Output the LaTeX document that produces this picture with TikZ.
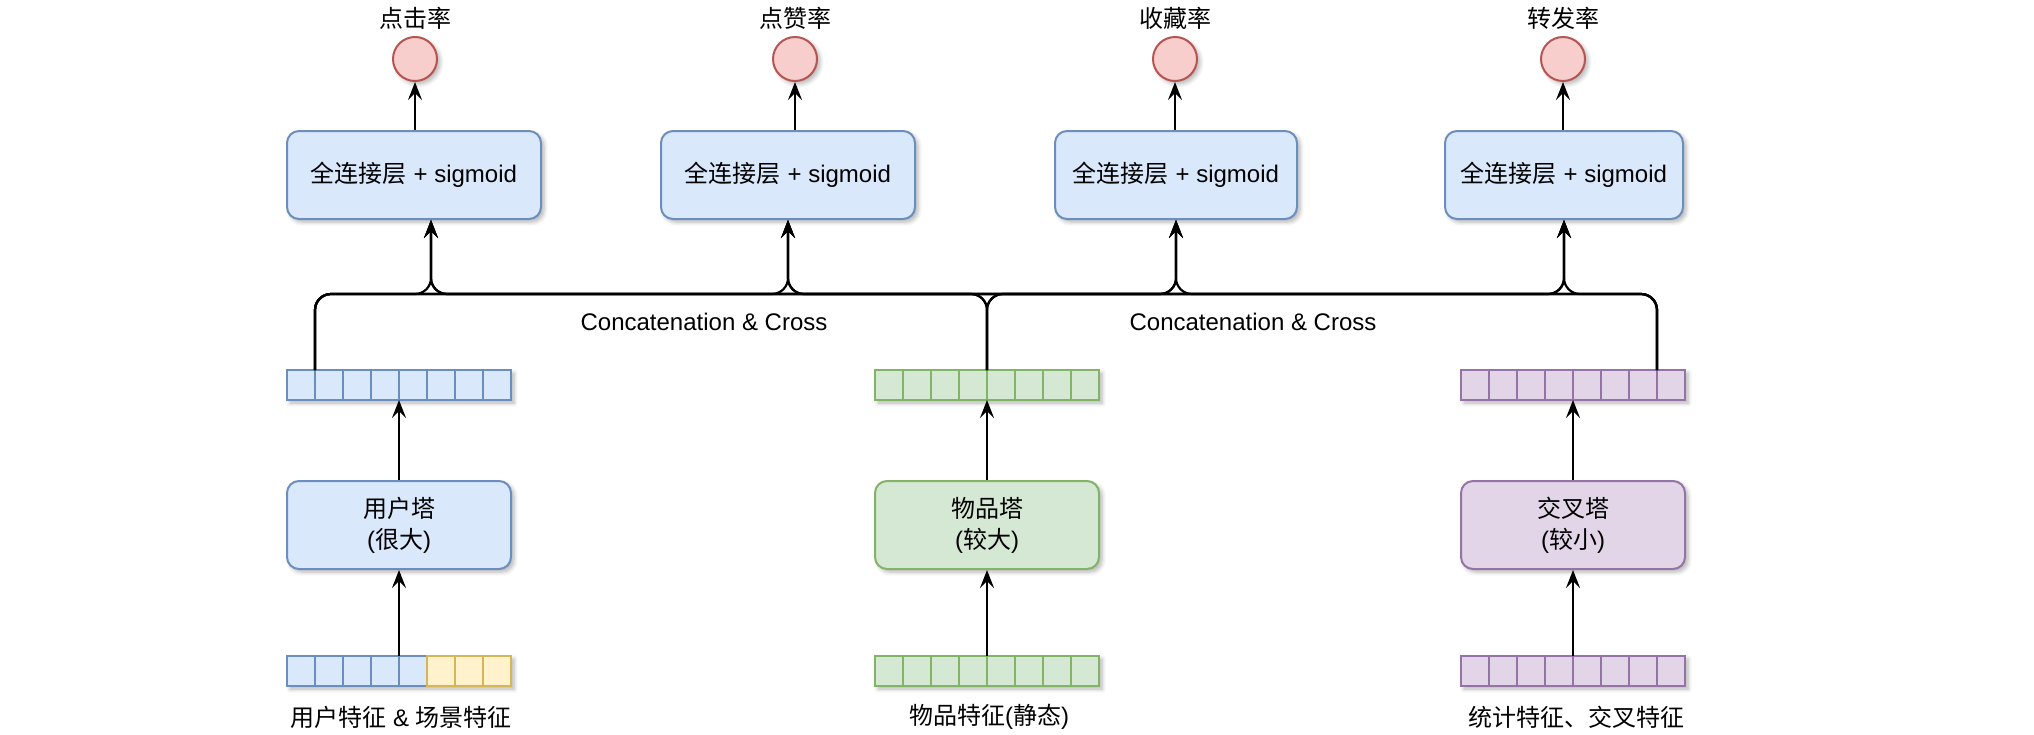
\documentclass[tikz,border=0pt]{standalone}
\usepackage{fontspec}
\setmainfont{Liberation Sans}
\newfontfamily\cjk{Noto Sans CJK SC}
\newcommand{\zh}[1]{{\cjk #1}}
\usetikzlibrary{arrows.meta,shadows.blur,calc}
\definecolor{bfill}{HTML}{DAE8FC}\definecolor{bdraw}{HTML}{6C8EBF}
\definecolor{gfill}{HTML}{D5E8D4}\definecolor{gdraw}{HTML}{82B366}
\definecolor{pfill}{HTML}{E1D5E7}\definecolor{pdraw}{HTML}{9673A6}
\definecolor{yfill}{HTML}{FFF2CC}\definecolor{ydraw}{HTML}{D6B656}
\definecolor{rfill}{HTML}{F8CECC}\definecolor{rdraw}{HTML}{B85450}
\begin{document}
\begin{tikzpicture}[x=0.5pt,y=-0.5pt,
  font=\fontsize{12}{15.5}\selectfont,
  shd/.style={blur shadow={shadow xshift=1.5pt,shadow yshift=-1.5pt,shadow blur steps=6,shadow opacity=30}},
  fcbox/.style={rounded corners=6pt,draw=bdraw,fill=bfill,line width=1pt,minimum height=44pt,inner sep=0pt,shd},
  tower/.style={rounded corners=6pt,line width=1pt,minimum width=112pt,minimum height=44pt,align=center,inner sep=0pt,shd},
  outc/.style={circle,draw=rdraw,fill=rfill,line width=1pt,minimum size=22pt,inner sep=0pt,shd},
  vecbg/.style={fill=white,minimum width=112pt,minimum height=15pt,inner sep=0pt,shd},
  cell/.style={draw,line width=1pt,minimum width=14pt,minimum height=15pt,inner sep=0pt,outer sep=0pt},
  cb/.style={cell,draw=bdraw,fill=bfill},
  cg/.style={cell,draw=gdraw,fill=gfill},
  cp/.style={cell,draw=pdraw,fill=pfill},
  cy/.style={cell,draw=ydraw,fill=yfill},
  edge/.style={line width=1.1pt,-{Stealth[length=9pt,width=7pt,inset=3.5pt]},rounded corners=8pt},
  txt/.style={inner sep=0pt}
]
\useasboundingbox (0,0) rectangle (2034,734);

% output circles and labels
\node[outc] (c1) at (415,59) {};
\node[outc] (c2) at (795,59) {};
\node[outc] (c3) at (1175,59) {};
\node[outc] (c4) at (1563,59) {};
\node[txt] (l1) at (415,18) {\zh{点击率}};
\node[txt] (l2) at (795,18) {\zh{点赞率}};
\node[txt] (l3) at (1175,18) {\zh{收藏率}};
\node[txt] (l4) at (1563,18) {\zh{转发率}};

% fully connected boxes
\node[fcbox,minimum width=127pt] (fc1) at (414,175) {\zh{全连接层} + sigmoid};
\node[fcbox,minimum width=127pt] (fc2) at (788,175) {\zh{全连接层} + sigmoid};
\node[fcbox,minimum width=121pt] (fc3) at (1176,175) {\zh{全连接层} + sigmoid};
\node[fcbox,minimum width=119pt] (fc4) at (1564,175) {\zh{全连接层} + sigmoid};

\foreach \i in {1,2,3,4}
  \draw[edge] (fc\i.north -| c\i.south) -- (c\i.south);

% top vectors
\node[vecbg] (ubg) at (399,385) {};
\node[vecbg] (gbg) at (987,385) {};
\node[vecbg] (pbg) at (1573,385) {};
\foreach \i in {1,...,8} {
  \node[cb] (u\i) at ({287+28*\i-14},385) {};
  \node[cg] (g\i) at ({875+28*\i-14},385) {};
  \node[cp] (p\i) at ({1461+28*\i-14},385) {};
}

% towers
\node[tower,draw=bdraw,fill=bfill] (ut) at (399,525) {\zh{用户塔}\\(\zh{很大})};
\node[tower,draw=gdraw,fill=gfill] (gt) at (987,525) {\zh{物品塔}\\(\zh{较大})};
\node[tower,draw=pdraw,fill=pfill] (pt) at (1573,525) {\zh{交叉塔}\\(\zh{较小})};

% bottom vectors
\node[vecbg] (ubbg) at (399,671) {};
\node[vecbg] (gbbg) at (987,671) {};
\node[vecbg] (pbbg) at (1573,671) {};
\foreach \i in {1,...,5}
  \node[cb] (ub\i) at ({287+28*\i-14},671) {};
\foreach \i in {6,7,8}
  \node[cy] (ub\i) at ({287+28*\i-14},671) {};
\foreach \i in {1,...,8} {
  \node[cg] (gb\i) at ({875+28*\i-14},671) {};
  \node[cp] (pb\i) at ({1461+28*\i-14},671) {};
}

% bottom labels
\node[txt] (bl1) at (401,717) {\zh{用户特征} \& \zh{场景特征}};
\node[txt] (bl2) at (989,717) {\zh{物品特征}(\zh{静态})};
\node[txt] (bl3) at (1576,717) {\zh{统计特征、交叉特征}};

% feature -> tower -> vector
\draw[edge] (ub4.north east) -- (ub4.north east |- ut.south);
\draw[edge] (gb4.north east) -- (gb4.north east |- gt.south);
\draw[edge] (pb4.north east) -- (pb4.north east |- pt.south);
\draw[edge] (u4.south east |- ut.north) -- (u4.south east);
\draw[edge] (g4.south east |- gt.north) -- (g4.south east);
\draw[edge] (p4.south east |- pt.north) -- (p4.south east);

% concatenation bus
\coordinate (bus) at (0,294);
\coordinate (in1) at ($(fc1.south)+(17,0)$);
\coordinate (in2) at (fc2.south);
\coordinate (in3) at (fc3.south);
\coordinate (in4) at (fc4.south);
\foreach \s in {u1.north east,g4.north east,p7.north east}
  \foreach \t in {in1,in2,in3,in4}
    \draw[edge] (\s) |- (bus -| \t) -- (\t);

\node[txt] (cc1) at (704,322) {Concatenation \& Cross};
\node[txt] (cc2) at (1253,322) {Concatenation \& Cross};
\end{tikzpicture}
\end{document}
